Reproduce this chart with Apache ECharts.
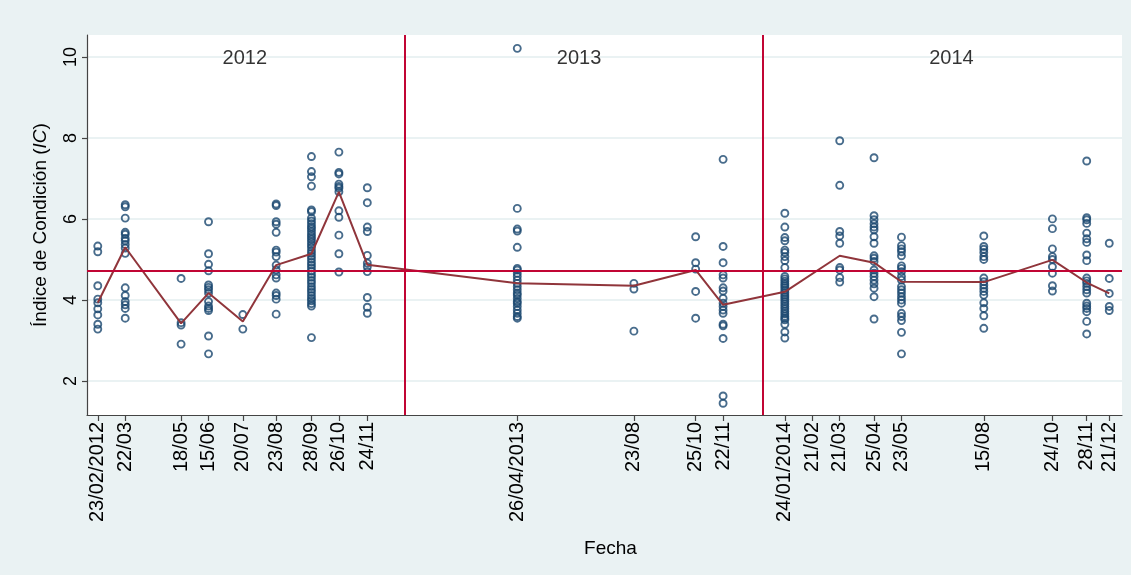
<!DOCTYPE html>
<html>
<head>
<meta charset="utf-8">
<script src="https://cdn.jsdelivr.net/npm/echarts@6/dist/echarts.min.js"></script>
<style>html,body{margin:0;padding:0;background:#fff}#c{width:1131px;height:575px}</style>
</head>
<body>
<div id="c"></div>
<script>
// ---- data ----
const sampleDates = ["2012-02-23","2012-03-22","2012-05-18","2012-06-15","2012-07-20","2012-08-23","2012-09-28","2012-10-26","2012-11-24",
  "2013-04-26","2013-08-23","2013-10-25","2013-11-22",
  "2014-01-24","2014-02-21","2014-03-21","2014-04-25","2014-05-23","2014-08-15","2014-10-24","2014-11-28","2014-12-21"];
const dateLabels = ["23/02/2012","22/03","18/05","15/06","20/07","23/08","28/09","26/10","24/11",
  "26/04/2013","23/08","25/10","22/11",
  "24/01/2014","21/02","21/03","25/04","23/05","15/08","24/10","28/11","21/12"];
const obs = [
  [5.33,5.19,4.35,4.02,3.93,3.78,3.63,3.40,3.28],
  [6.35,6.30,6.02,5.67,5.62,5.52,5.46,5.37,5.28,5.15,4.30,4.11,3.96,3.88,3.79,3.55],
  [4.53,3.44,3.38,2.91],
  [5.93,5.14,4.88,4.72,4.37,4.31,4.25,4.17,3.96,3.85,3.79,3.74,3.11,2.67],
  [3.64,3.28],
  [6.37,6.33,5.93,5.87,5.67,5.23,5.18,5.07,4.86,4.74,4.62,4.54,4.17,4.11,4.02,3.65],
  [7.54,7.17,7.04,6.81,6.22,6.18,6.02,5.95,5.88,5.81,5.76,5.69,5.62,5.56,5.50,5.43,5.36,5.30,5.22,5.15,5.08,5.01,4.93,4.86,4.79,4.71,4.63,4.56,4.48,4.41,4.33,4.26,4.19,4.11,4.04,3.98,3.91,3.85,3.07],
  [7.65,7.15,7.11,6.86,6.80,6.76,6.67,6.20,6.04,5.60,5.14,4.69],
  [6.77,6.40,5.80,5.69,5.10,4.91,4.82,4.70,4.06,3.82,3.67],
  [10.21,6.26,5.75,5.70,5.30,4.78,4.74,4.66,4.58,4.49,4.41,4.33,4.25,4.17,4.12,4.04,3.96,3.92,3.84,3.75,3.67,3.59,3.55],
  [4.41,4.27,3.23],
  [5.56,4.92,4.76,4.21,3.55],
  [7.47,5.32,4.92,4.62,4.54,4.30,4.22,4.04,3.92,3.84,3.75,3.67,3.40,3.36,3.05,1.63,1.45],
  [6.14,5.80,5.54,5.46,5.23,5.17,5.07,4.97,4.80,4.58,4.52,4.46,4.40,4.35,4.30,4.24,4.18,4.12,4.07,4.02,3.96,3.90,3.84,3.78,3.72,3.66,3.60,3.55,3.51,3.40,3.21,3.06],
  [],
  [7.93,6.83,5.69,5.58,5.40,4.80,4.74,4.55,4.44],
  [7.51,6.08,5.98,5.88,5.80,5.73,5.56,5.40,5.09,5.03,4.95,4.74,4.66,4.58,4.49,4.40,4.29,4.08,3.53],
  [5.55,5.34,5.26,5.19,5.09,4.84,4.78,4.70,4.58,4.49,4.33,4.25,4.17,4.08,4.00,3.92,3.67,3.59,3.49,3.20,2.67],
  [5.58,5.32,5.25,5.17,5.07,5.00,4.54,4.45,4.37,4.29,4.21,4.12,3.93,3.79,3.61,3.30],
  [6.00,5.76,5.26,5.07,5.00,4.82,4.66,4.35,4.22],
  [7.43,6.03,5.98,5.89,5.65,5.51,5.42,5.11,4.97,4.54,4.47,4.41,4.33,4.25,4.17,3.92,3.85,3.79,3.71,3.47,3.16],
  [5.40,4.53,4.16,3.84,3.74]
];
const dateMeans = [3.93,5.30,3.42,4.17,3.47,4.86,5.14,6.67,4.87,4.41,4.35,4.74,3.88,4.20,null,5.09,4.92,4.45,4.44,4.99,4.43,4.16];
const overallMean = 4.71;
const yearBreaks = ["2013-01-01","2014-01-01"];
const yearNames = ["2012","2013","2014"];
const yearLabelDates = ["2012-07-22","2013-06-28","2014-07-13"];
const yearLabelLevel = 10;
const yTicks = [2,4,6,8,10];
const xMinDate = "2012-02-12", xMaxDate = "2015-01-03";
const yMin = 1.16, yMax = 10.54;

// ---- build ----
const ts = s => { const p = s.split('-').map(Number); return Date.UTC(p[0], p[1]-1, p[2]); };
const tickTs = sampleDates.map(ts);
const labelMap = {};
tickTs.forEach((t,i) => labelMap[t] = dateLabels[i]);
const points = [];
obs.forEach((arr,i) => arr.forEach(v => points.push([tickTs[i], v])));
const meanData = tickTs.map((t,i) => [t, dateMeans[i]]);
const yearData = yearLabelDates.map((d,i) => ({value:[ts(d), yearLabelLevel], name: yearNames[i]}));

const FONT = '"Liberation Sans", Arial, sans-serif';
const chart = echarts.init(document.getElementById('c'), null, {renderer:'canvas'});
chart.setOption({
  backgroundColor: '#EAF2F3',
  animation: false,
  grid: {left:87, right:9, top:35, bottom:160, show:true, backgroundColor:'#ffffff', borderWidth:0},
  xAxis: {
    type:'value', min: ts(xMinDate), max: ts(xMaxDate),
    name:'Fecha', nameLocation:'middle', nameGap:124,
    nameTextStyle:{fontFamily:FONT, fontSize:19, color:'#000', padding:[0,0,0,12]},
    axisLine:{show:true, onZero:false, lineStyle:{color:'#444', width:1.2}},
    axisTick:{show:true, length:6, customValues: tickTs, lineStyle:{color:'#444', width:1.2}},
    axisLabel:{rotate:90, margin:7, customValues: tickTs, fontFamily:FONT, fontSize:20, color:'#000',
      formatter: v => labelMap[v] || ''},
    splitLine:{show:false}
  },
  yAxis: {
    type:'value', min:yMin, max:yMax,
    name:'{a|Índice de Condición (}{i|IC}{a|)}', nameLocation:'middle', nameGap:37, nameRotate:90,
    nameTextStyle:{rich:{a:{fontFamily:FONT, fontSize:19, color:'#000'}, i:{fontFamily:FONT, fontSize:19, fontStyle:'italic', color:'#000'}}},
    axisLine:{show:true, lineStyle:{color:'#444', width:1.2}},
    axisTick:{show:true, length:5, customValues:yTicks, lineStyle:{color:'#444', width:1.2}},
    axisLabel:{rotate:90, margin:7, customValues:yTicks, fontFamily:FONT, fontSize:18, color:'#000'},
    splitLine:{show:true, lineStyle:{color:'#EAF2F3', width:2}}
  },
  series: [
    {
      type:'scatter', data: points, symbol:'circle', symbolSize:7, z:3,
      itemStyle:{color:'rgba(255,255,255,0)', borderColor:'#1a476f', borderWidth:1.9},
      markLine:{silent:true, symbol:'none', animation:false, label:{show:false},
        lineStyle:{color:'#c10534', type:'solid', width:2},
        data: yearBreaks.map(d => ({xAxis: ts(d)})).concat([{yAxis: overallMean}])}
    },
    {
      type:'line', data: meanData, connectNulls:true, showSymbol:false, symbol:'none', z:4,
      lineStyle:{color:'#90353b', width:2}
    },
    {
      type:'scatter', data: yearData, symbolSize:0, z:5, silent:true,
      label:{show:true, position:'inside', offset:[0,2], formatter: p => p.name, fontFamily:FONT, fontSize:20, color:'#000'}
    }
  ]
});
</script>
</body>
</html>
